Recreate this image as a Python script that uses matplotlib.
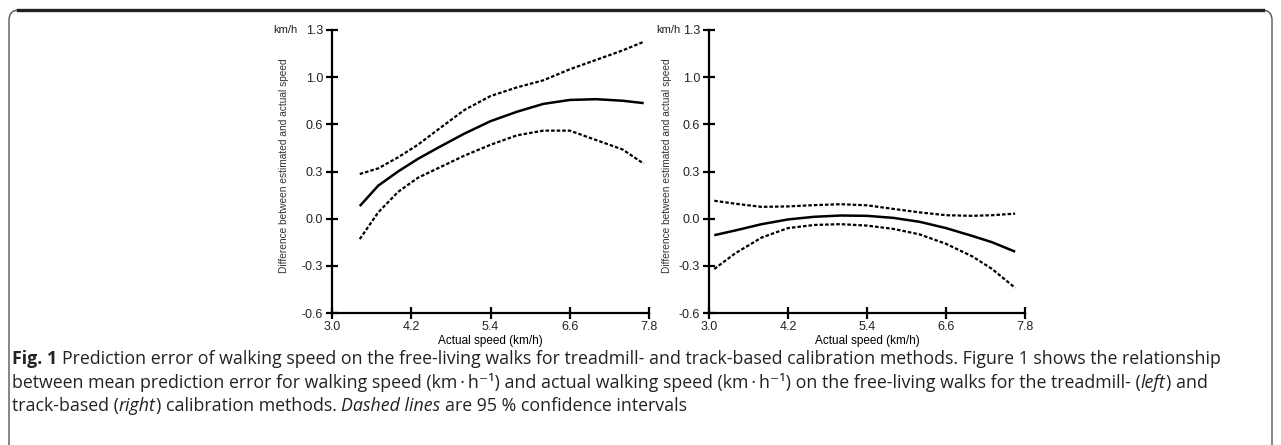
import numpy as np
import matplotlib
matplotlib.use("Agg")
import matplotlib.pyplot as plt
from matplotlib.patches import FancyBboxPatch
from matplotlib.lines import Line2D

# ---- data (y in axis units, ticks -0.6..1.2 step 0.3) ----
left_x = [3.42, 3.7, 4.0, 4.3, 4.6, 5.0, 5.4, 5.8, 6.2, 6.6, 7.0, 7.4, 7.72]
left_mean = [0.08, 0.21, 0.30, 0.38, 0.45, 0.54, 0.62, 0.68, 0.73, 0.755, 0.76, 0.75, 0.735]
left_upper = [0.284, 0.32, 0.39, 0.47, 0.565, 0.69, 0.78, 0.835, 0.88, 0.95, 1.01, 1.07, 1.125]
left_lower = [-0.13, 0.04, 0.17, 0.26, 0.32, 0.40, 0.47, 0.53, 0.56, 0.56, 0.50, 0.44, 0.35]

right_x = [3.08, 3.4, 3.8, 4.2, 4.6, 5.0, 5.4, 5.8, 6.2, 6.6, 7.0, 7.3, 7.65]
right_mean = [-0.105, -0.075, -0.035, -0.005, 0.012, 0.02, 0.018, 0.005, -0.02, -0.06, -0.11, -0.15, -0.21]
right_upper = [0.114, 0.095, 0.075, 0.078, 0.086, 0.092, 0.085, 0.062, 0.04, 0.022, 0.018, 0.022, 0.032]
right_lower = [-0.32, -0.22, -0.12, -0.06, -0.04, -0.035, -0.044, -0.065, -0.10, -0.16, -0.24, -0.32, -0.44]

x_ticks = [3.0, 4.2, 5.4, 6.6, 7.8]
y_ticks = [-0.6, -0.3, 0.0, 0.3, 0.6, 0.9, 1.2]
y_tick_labels = ["-0.6", "-0.3", "0.0", "0.3", "0.6", "1.0", "1.3"]

chart_font = ["Liberation Sans", "DejaVu Sans"]
cap_font = ["Open Sans", "DejaVu Sans"]

W, H = 1281, 445
fig = plt.figure(figsize=(W / 100, H / 100), dpi=100)


def px_box(x0, y_top, x1, y_bot):
    return [x0 / W, 1 - y_bot / H, (x1 - x0) / W, (y_bot - y_top) / H]


def panel(rect, xs, mean, upper, lower, ylab_x, unit_x):
    ax = fig.add_axes(rect)
    ax.plot(xs, mean, color="black", lw=1.8, solid_capstyle="butt")
    for band in (upper, lower):
        ax.plot(xs, band, color="black", lw=1.6, linestyle=(0, (1.6, 0.9)))
    ax.set_xlim(3.0, 7.8)
    ax.set_ylim(-0.6, 1.2)
    for s in ("top", "right"):
        ax.spines[s].set_visible(False)
    for s in ("left", "bottom"):
        ax.spines[s].set_linewidth(1.6)
    ax.set_xticks(x_ticks)
    ax.set_xticklabels([f"{v:.1f}" for v in x_ticks])
    ax.set_yticks(y_ticks)
    ax.set_yticklabels(y_tick_labels)
    ax.tick_params(direction="inout", length=9, width=1.6, labelsize=9, pad=2)
    ax.tick_params(axis="x", pad=1.5)
    for lab in ax.get_xticklabels() + ax.get_yticklabels():
        lab.set_family(chart_font)
        lab.set_color("#222222")
    ax.set_xlabel("Actual speed (km/h)", fontsize=8.5, family=chart_font, labelpad=1)
    ax.set_ylabel("Difference between estimated and actual speed", fontsize=7.3,
                  family=chart_font, color="#333333")
    ax.yaxis.set_label_coords(ylab_x, 0.52)
    ax.text(unit_x, 1.0, "km/h", transform=ax.transAxes, fontsize=8,
            family=chart_font, ha="center", va="center", color="#222222")
    return ax


panel(px_box(332, 30, 649, 313), left_x, left_mean, left_upper, left_lower, -0.137, -0.148)
panel(px_box(709, 30, 1025, 313), right_x, right_mean, right_upper, right_lower, -0.117, -0.127)

# ---- frame around figure (display pixel coordinates) ----
frame = FancyBboxPatch((9, -30), 1263, H - 10 + 30,
                       boxstyle="round,pad=0,rounding_size=10",
                       transform=None, fill=False, edgecolor="#555555", lw=1.0)
fig.add_artist(frame)
fig.add_artist(Line2D([18, 1263], [H - 10, H - 10], transform=None,
                      color="#222222", lw=2.4))

# ---- caption ----
renderer = fig.canvas.get_renderer()
CAP_FS = 12.8


def text_width(s, **kw):
    t = fig.text(0, 0, s, fontsize=CAP_FS, family=cap_font, **kw)
    w = t.get_window_extent(renderer).width
    t.remove()
    return w / W


space_w = text_width("a a") - text_width("aa")


def caption_line(segments, y):
    x = 12 / W
    for i, (txt, kw) in enumerate(segments):
        if i > 0 and txt.startswith(" "):
            x += space_w
            txt = txt[1:]
        t = fig.text(x, 1 - y / H, txt, fontsize=CAP_FS, family=cap_font,
                     va="center", color="#222222", **kw)
        x += t.get_window_extent(renderer).width / W


norm = {}
ital = {"style": "italic"}
bold = {"weight": "bold"}
caption_line([("Fig. 1", bold),
              (" Prediction error of walking speed on the free-living walks for treadmill- and "
               "track-based calibration methods. Figure 1 shows the relationship", norm)], 359)
caption_line([("between mean prediction error for walking speed (km\u2009\u00b7\u2009h\u207b\u00b9) and actual "
               "walking speed (km\u2009\u00b7\u2009h\u207b\u00b9) on the free-living walks for the treadmill- (", norm),
              ("left", ital), (") and", norm)], 383)
caption_line([("track-based (", norm), ("right", ital), (") calibration methods.", norm),
              (" Dashed lines", ital), (" are 95 % confidence intervals", norm)], 406)

fig.savefig("out.png", dpi=100)
